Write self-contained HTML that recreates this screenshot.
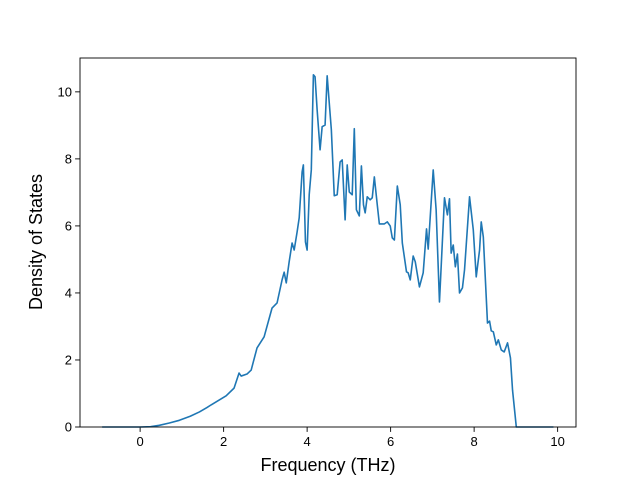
<!DOCTYPE html>
<html><head><meta charset="utf-8"><style>
body{margin:0;background:#fff;}
svg{display:block;font-family:"Liberation Sans","DejaVu Sans",sans-serif;}
</style></head><body>
<svg id="chart" width="640" height="480" viewBox="0 0 640 480" xmlns="http://www.w3.org/2000/svg">
<rect x="0" y="0" width="640" height="480" fill="#fff"/>
<g id="ticks"></g>
<path id="line" fill="none" stroke="#1f77b4" stroke-width="1.6" stroke-linejoin="round"/>
<rect x="80" y="58" width="496" height="369" fill="none" stroke="#000" stroke-width="0.9"/>
<text x="328" y="471" font-size="18" text-anchor="middle">Frequency (THz)</text>
<text x="0" y="0" font-size="18" text-anchor="middle" transform="translate(42,242) rotate(-90)">Density of States</text>
</svg>
<script>
const freq=[-0.91,0,0.25,0.46,0.70,0.94,1.20,1.42,1.60,1.70,2.06,2.25,2.37,2.42,2.56,2.66,2.80,2.97,3.16,3.28,3.40,3.45,3.50,3.57,3.64,3.69,3.76,3.81,3.88,3.91,3.96,4.00,4.05,4.10,4.15,4.19,4.24,4.31,4.36,4.43,4.48,4.58,4.65,4.72,4.79,4.84,4.91,4.96,5.01,5.08,5.13,5.18,5.25,5.30,5.35,5.39,5.44,5.51,5.56,5.61,5.68,5.73,5.85,5.92,5.99,6.04,6.09,6.16,6.23,6.28,6.38,6.42,6.47,6.54,6.59,6.69,6.78,6.86,6.90,7.02,7.09,7.17,7.29,7.36,7.41,7.45,7.50,7.55,7.60,7.65,7.72,7.77,7.89,7.98,8.05,8.13,8.17,8.22,8.32,8.37,8.41,8.46,8.53,8.58,8.65,8.72,8.80,8.87,8.92,9.01,9.9];
const dos=[0,0,0.01,0.05,0.12,0.20,0.32,0.45,0.58,0.66,0.93,1.16,1.61,1.52,1.58,1.70,2.36,2.69,3.55,3.70,4.39,4.62,4.30,4.93,5.49,5.28,5.82,6.24,7.61,7.82,5.52,5.28,6.93,7.67,10.51,10.45,9.46,8.27,8.96,9.01,10.48,8.87,6.90,6.93,7.91,7.97,6.18,7.82,7.01,6.93,8.90,6.48,6.30,7.79,6.63,6.39,6.87,6.78,6.84,7.46,6.63,6.06,6.06,6.12,6.00,5.64,5.58,7.19,6.63,5.49,4.63,4.60,4.39,5.10,4.93,4.18,4.60,5.91,5.31,7.67,6.48,3.73,6.84,6.33,6.81,5.19,5.43,4.78,5.16,4.00,4.15,4.69,6.87,5.88,4.48,5.28,6.12,5.67,3.10,3.16,2.87,2.84,2.45,2.60,2.30,2.24,2.51,2.06,1.10,0,0];
const xTicks=[0,2,4,6,8,10];
const yTicks=[0,2,4,6,8,10];
const L=80,R=576,T=58,B=427;
const xmin=-1.44,xmax=10.44,ymin=0,ymax=11.01;
const sx=v=>L+(v-xmin)/(xmax-xmin)*(R-L);
const sy=v=>B-(v-ymin)/(ymax-ymin)*(B-T);
const NS="http://www.w3.org/2000/svg";
let d="";
for(let i=0;i<freq.length;i++){d+=(i?"L":"M")+sx(freq[i]).toFixed(2)+","+sy(dos[i]).toFixed(2);}
document.getElementById("line").setAttribute("d",d);
const g=document.getElementById("ticks");
function mk(tag,attrs){const e=document.createElementNS(NS,tag);for(const k in attrs)e.setAttribute(k,attrs[k]);return e;}
xTicks.forEach(v=>{
 const x=sx(v);
 const t=mk("line",{x1:x,x2:x,y1:B,y2:B+4.9,stroke:"#000","stroke-width":0.9});
 
 
 g.appendChild(t);
 const l=mk("text",{x:x,y:B+19,"font-size":13,"text-anchor":"middle"});
 
 
 l.textContent=v;g.appendChild(l);
});
yTicks.forEach(v=>{
 const y=sy(v);
 const t=mk("line",{x1:L-4.9,x2:L,y1:y,y2:y,stroke:"#000","stroke-width":0.9});
 
 
 g.appendChild(t);
 const l=mk("text",{x:L-8,y:y+4.7,"font-size":13,"text-anchor":"end"});
 
 
 l.textContent=v;g.appendChild(l);
});
</script>
</body></html>
